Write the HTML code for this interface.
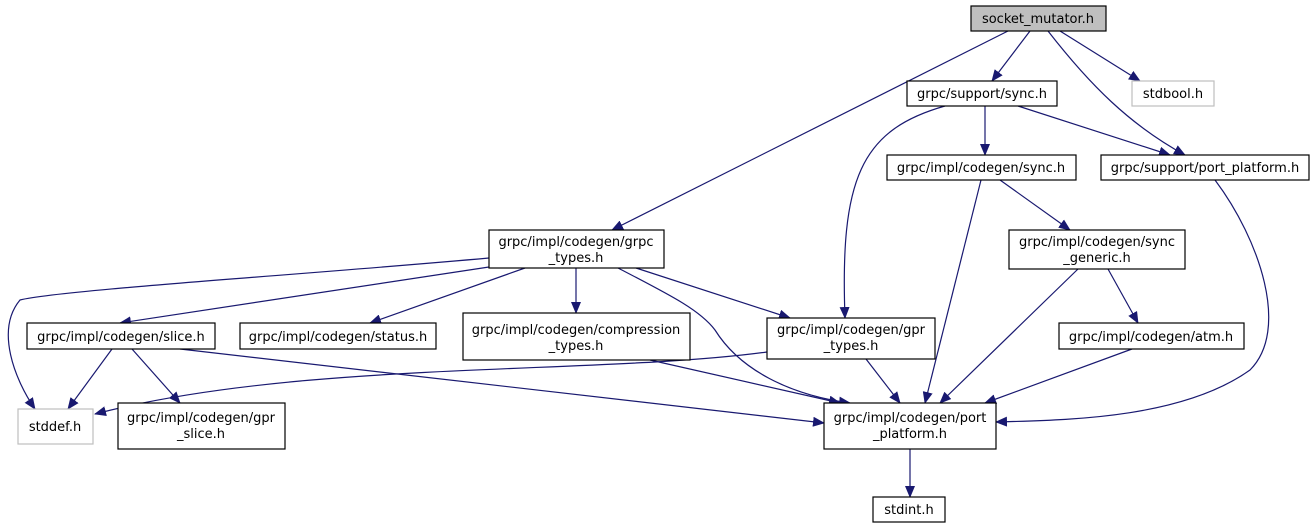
<!DOCTYPE html>
<html><head><meta charset="utf-8"><style>
html,body{margin:0;padding:0;background:#fff;width:1315px;height:529px;overflow:hidden}
svg text{font-family:"DejaVu Sans","Liberation Sans",sans-serif;font-size:13px;fill:#000;text-anchor:middle}
</style></head><body>
<svg width="1315" height="529" xmlns="http://www.w3.org/2000/svg">
<defs><marker id="a" markerWidth="12" markerHeight="10" refX="11" refY="5" orient="auto" markerUnits="userSpaceOnUse"><path d="M0,0 L12,5 L0,10 z" fill="#191970"/></marker></defs>
<g fill="none" stroke="#191970" stroke-width="1.2" marker-end="url(#a)">
<path d="M1008,31 L612,230"/>
<path d="M1030,31 L992,81"/>
<path d="M1060,31 L1140,81"/>
<path d="M1048,31 C1090,85 1130,125 1185,155"/>
<path d="M945,106 C860,130 840,180 845,318"/>
<path d="M985,106 L985,155"/>
<path d="M1018,106 L1170,155"/>
<path d="M981,180 L925,403"/>
<path d="M1000,180 L1070,230"/>
<path d="M1215,180 C1260,240 1290,330 1250,370 C1180,420 1060,420 996,422"/>
<path d="M1078,269 L940,403"/>
<path d="M1108,269 L1138,323"/>
<path d="M1132,349 L985,403"/>
<path d="M489,258 C300,275 60,290 20,300 C-5,330 15,380 35,409"/>
<path d="M489,267 L120,323"/>
<path d="M525,268 L370,323"/>
<path d="M576,268 L576,313"/>
<path d="M636,268 L790,318"/>
<path d="M618,268 C670,295 700,310 715,330 C740,370 790,395 850,403"/>
<path d="M112,349 L68,409"/>
<path d="M132,349 L180,403"/>
<path d="M180,349 L824,423"/>
<path d="M650,360 L840,403"/>
<path d="M767,352 C600,375 300,360 95,414"/>
<path d="M866,359 L900,403"/>
<path d="M910,449 L910,497"/>
</g>
<g stroke-width="1.2">
<rect x="971" y="6" width="135" height="25" fill="#bfbfbf" stroke="#000"/>
<rect x="907" y="81" width="150" height="25" fill="#fff" stroke="#000"/>
<rect x="1132" y="81" width="82" height="25" fill="#fff" stroke="#bfbfbf"/>
<rect x="887" y="155" width="189" height="25" fill="#fff" stroke="#000"/>
<rect x="1101" y="155" width="208" height="25" fill="#fff" stroke="#000"/>
<rect x="1009" y="230" width="176" height="39" fill="#fff" stroke="#000"/>
<rect x="489" y="230" width="175" height="38" fill="#fff" stroke="#000"/>
<rect x="27" y="323" width="188" height="26" fill="#fff" stroke="#000"/>
<rect x="240" y="323" width="196" height="26" fill="#fff" stroke="#000"/>
<rect x="463" y="313" width="227" height="47" fill="#fff" stroke="#000"/>
<rect x="767" y="318" width="168" height="41" fill="#fff" stroke="#000"/>
<rect x="1059" y="323" width="185" height="26" fill="#fff" stroke="#000"/>
<rect x="18" y="409" width="75" height="35" fill="#fff" stroke="#bfbfbf"/>
<rect x="118" y="403" width="167" height="46" fill="#fff" stroke="#000"/>
<rect x="824" y="403" width="172" height="46" fill="#fff" stroke="#000"/>
<rect x="873" y="497" width="72" height="25" fill="#fff" stroke="#000"/>
</g>
<text x="1038" y="23">socket_mutator.h</text>
<text x="982" y="98">grpc/support/sync.h</text>
<text x="1173" y="98">stdbool.h</text>
<text x="981" y="172">grpc/impl/codegen/sync.h</text>
<text x="1205" y="172">grpc/support/port_platform.h</text>
<text x="1097" y="246">grpc/impl/codegen/sync</text>
<text x="1097" y="262">_generic.h</text>
<text x="576" y="246">grpc/impl/codegen/grpc</text>
<text x="576" y="262">_types.h</text>
<text x="121" y="341">grpc/impl/codegen/slice.h</text>
<text x="338" y="341">grpc/impl/codegen/status.h</text>
<text x="576" y="334">grpc/impl/codegen/compression</text>
<text x="576" y="350">_types.h</text>
<text x="851" y="334">grpc/impl/codegen/gpr</text>
<text x="851" y="350">_types.h</text>
<text x="1151" y="341">grpc/impl/codegen/atm.h</text>
<text x="55" y="431">stddef.h</text>
<text x="201" y="422">grpc/impl/codegen/gpr</text>
<text x="201" y="438">_slice.h</text>
<text x="910" y="422">grpc/impl/codegen/port</text>
<text x="910" y="438">_platform.h</text>
<text x="909" y="514">stdint.h</text>
</svg>
</body></html>
